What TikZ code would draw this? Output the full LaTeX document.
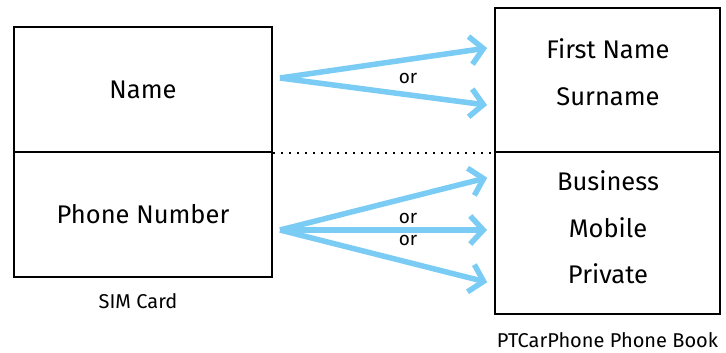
\documentclass[tikz,border=0pt]{standalone}
\usepackage{fontspec}
\setmainfont{Fira Sans}
\usepackage{tikz}
\usetikzlibrary{arrows.meta, positioning}
\definecolor{linkblue}{RGB}{122,204,244}

\begin{document}
\begin{tikzpicture}[
    x=1pt, y=-1pt,
    cell/.style={draw, line width=2pt, inner sep=0pt},
    entry/.style={font=\fontsize{25.5}{28}\selectfont, inner sep=1pt},
    caption/.style={font=\fontsize{20}{22}\selectfont, inner sep=1pt},
    orlabel/.style={font=\fontsize{19}{21}\selectfont, inner sep=1pt},
    link/.style={-{Straight Barb[length=13pt, width=28pt]}, line width=5.5pt,
                 color=linkblue, shorten >=7pt},
  ]
  \useasboundingbox (0,0) rectangle (726,353);

  % --- SIM card ---
  \node[cell, minimum width=258pt, minimum height=125pt] (simname) at (143,89.5) {};
  \node[cell, minimum width=258pt, minimum height=125pt] (simnum) at (143,214.5) {};
  \node[entry] (name) at (143,90) {Name};
  \node[entry] (number) at (simnum) {Phone Number};
  \node[caption, below=14pt of simnum, xshift=-5pt] (sim) {SIM Card};

  % --- phone book ---
  \node[cell, minimum width=225pt, minimum height=144pt] (bookname) at (607.5,80) {};
  \node[cell, minimum width=225pt, minimum height=162pt] (booknum) at (607.5,233) {};
  \node[entry] (first) at (608,49) {First Name};
  \node[entry] (sur) at (608,97) {Surname};
  \node[entry] (biz) at (608,181) {Business};
  \node[entry] (mob) at (608,228) {Mobile};
  \node[entry] (priv) at (608,274) {Private};
  \node[caption, below=16pt of booknum] (book) {PTCarPhone Phone Book};

  \draw[line width=2pt, dash pattern=on 2pt off 6pt] (simname.south east) -- (bookname.south west);

  % --- mappings ---
  \coordinate (src1) at (280,78);
  \coordinate (src2) at (280,230);
  \draw[link] (src1) -- ([yshift=2pt]first.west -| bookname.west);
  \draw[link] (src1) -- ([yshift=-9pt]sur.west -| bookname.west);
  \node[orlabel] (or1) at (408,78) {or};

  \draw[link] (src2) -- ([yshift=5pt]biz.west -| booknum.west);
  \draw[link] (src2) -- (src2 -| booknum.west);
  \draw[link] (src2) -- ([yshift=-10pt]priv.west -| booknum.west);
  \node[orlabel] (or2) at (408,218) {or};
  \node[orlabel] (or3) at (408,240) {or};
\end{tikzpicture}
\end{document}
